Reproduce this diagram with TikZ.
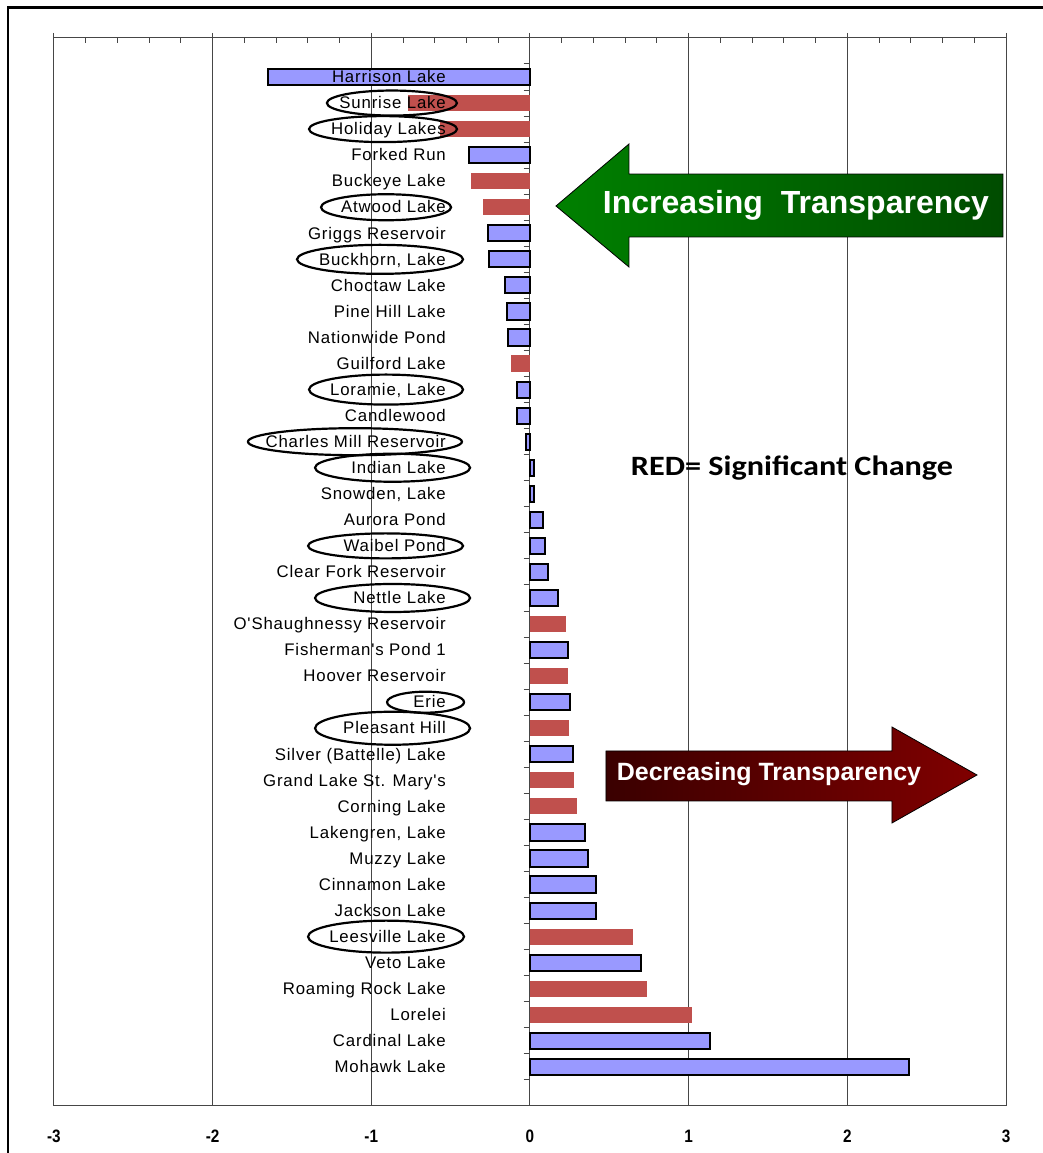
\documentclass[tikz,border=0pt]{standalone}
\usepackage{fontspec}
\setmainfont{Liberation Sans}
\newfontfamily\lakefont[LetterSpace=5]{Liberation Sans}
\newfontfamily\notefont{Carlito}
\usetikzlibrary{calc}
\usetikzlibrary{positioning}

\definecolor{barblue}{RGB}{153,153,255}
\definecolor{barred}{RGB}{192,80,77}
\definecolor{gridgray}{RGB}{70,70,70}
\definecolor{upgreen}{RGB}{0,128,0}
\definecolor{updark}{RGB}{0,76,0}
\definecolor{downdark}{RGB}{58,0,0}
\definecolor{downred}{RGB}{128,0,0}

\begin{document}
\begin{tikzpicture}[x=158.7pt,y=-26.05pt,
    gridline/.style={draw=gridgray,line width=1pt},
    bar0/.style={fill=barblue,draw=black,line width=2pt},
    bar1/.style={fill=barred},
    lakelabel/.style={anchor=base east,inner sep=0pt,font={\lakefont\fontsize{16.8pt}{18pt}\selectfont}},
    ring/.style={draw=black,line width=2.2pt},
    arrowtext/.style={anchor=base,inner sep=0pt,text=white},
    axislabel/.style={anchor=base,inner sep=0pt,font={\bfseries\fontsize{18pt}{20pt}\selectfont}}]
  \useasboundingbox (-3.3396,-1.9559) rectangle (3.2325,42.306);

  \foreach \k in {-3,...,3}
    \draw[gridline] (\k,-0.689) -- (\k,40.5);
  \draw[gridline] (-3,-0.5) -- (3,-0.5);
  \draw[gridline] (-3,40.5) -- (3,40.5);
  \foreach \k in {-3,...,2}
    \foreach \m in {0.2,0.4,0.6,0.8}
      \draw[gridline] (\k+\m,-0.5) -- (\k+\m,-0.324);
  \foreach \r in {0.5,1.5,...,39.5}
    \draw[gridline] (-0.04,\r) -- (0,\r);

  \foreach \name/\val/\sig [count=\i] in {
      {Harrison Lake}/-1.651/0,
      {Sunrise Lake}/-0.769/1,
      {Holiday Lakes}/-0.567/1,
      {Forked Run}/-0.384/0,
      {Buckeye Lake}/-0.372/1,
      {Atwood Lake}/-0.296/1,
      {Griggs Reservoir}/-0.265/0,
      {Buckhorn, Lake}/-0.258/0,
      {Choctaw Lake}/-0.158/0,
      {Pine Hill Lake}/-0.145/0,
      {Nationwide Pond}/-0.139/0,
      {Guilford Lake}/-0.12/1,
      {Loramie, Lake}/-0.082/0,
      {Candlewood}/-0.082/0,
      {Charles Mill Reservoir}/-0.025/0,
      {Indian Lake}/0.025/0,
      {Snowden, Lake}/0.025/0,
      {Aurora Pond}/0.082/0,
      {Waibel Pond}/0.095/0,
      {Clear Fork Reservoir}/0.113/0,
      {Nettle Lake}/0.176/0,
      {O'Shaughnessy Reservoir}/0.227/1,
      {Fisherman's Pond 1}/0.239/0,
      {Hoover Reservoir}/0.24/1,
      {Erie}/0.252/0,
      {Pleasant Hill}/0.246/1,
      {Silver (Battelle) Lake}/0.27/0,
      {Grand Lake St. Mary's}/0.277/1,
      {Corning Lake}/0.296/1,
      {Lakengren, Lake}/0.347/0,
      {Muzzy Lake}/0.365/0,
      {Cinnamon Lake}/0.416/0,
      {Jackson Lake}/0.416/0,
      {Leesville Lake}/0.649/1,
      {Veto Lake}/0.699/0,
      {Roaming Rock Lake}/0.737/1,
      {Lorelei}/1.02/1,
      {Cardinal Lake}/1.134/0,
      {Mohawk Lake}/2.388/0}
  {
    \path[bar\sig] (0,\i-0.31) rectangle (\val,\i+0.31);
    \node[lakelabel] (lake\i) at (-0.529,\i+0.22) {\name};
  }

  \foreach \r/\cx/\rx/\ry in {2/-0.870/65/12.5, 3/-0.926/74/13, 6/-0.907/65/13,
      8/-0.945/83/14.5, 13/-0.907/77/15, 15/-1.103/107/13.5, 16/-0.866/77.5/14,
      19/-0.910/77.5/12.5, 21/-0.866/77.5/14, 25/-0.658/38.5/10.5,
      26/-0.866/77.5/16.5, 34/-0.907/78/16}
    \draw[ring] (\cx,\r) ellipse [x radius=\rx pt, y radius=\ry pt];

  \draw[black,line width=0.8pt,left color=upgreen,right color=updark]
    (0.1638,5.952) -- (0.6238,3.572) -- (0.6238,4.724) -- (2.9805,4.724)
    -- (2.9805,7.142) -- (0.6238,7.142) -- (0.6238,8.294) -- cycle;
  \node[arrowtext,font={\bfseries\fontsize{32pt}{36pt}\selectfont}] (uptext)
    at (1.676,6.221) {Increasing~~Transparency};

  \draw[black,line width=0.8pt,left color=downdark,right color=downred]
    (0.4789,26.873) -- (2.281,26.873) -- (2.281,25.952) -- (2.8166,27.794)
    -- (2.281,29.637) -- (2.281,28.792) -- (0.4789,28.792) -- cycle;
  \node[arrowtext,font={\bfseries\fontsize{25pt}{28pt}\selectfont}] (downtext)
    at (1.506,27.987) {Decreasing Transparency};

  \node[anchor=base,inner sep=0pt,font={\notefont\bfseries\fontsize{28pt}{30pt}\selectfont}] (note)
    at (1.651,16.3) {\scalebox{1.15}[1]{RED= Significant Change}};

  \foreach \k [count=\n] in {-3,...,3}
    \node[axislabel] (tick\n) at (\k,41.92) {\scalebox{0.85}[1]{\k}};

  \draw[line width=2.5pt] (-3.29,42.306) -- (-3.29,-1.676) -- (3.2325,-1.676);
\end{tikzpicture}
\end{document}
